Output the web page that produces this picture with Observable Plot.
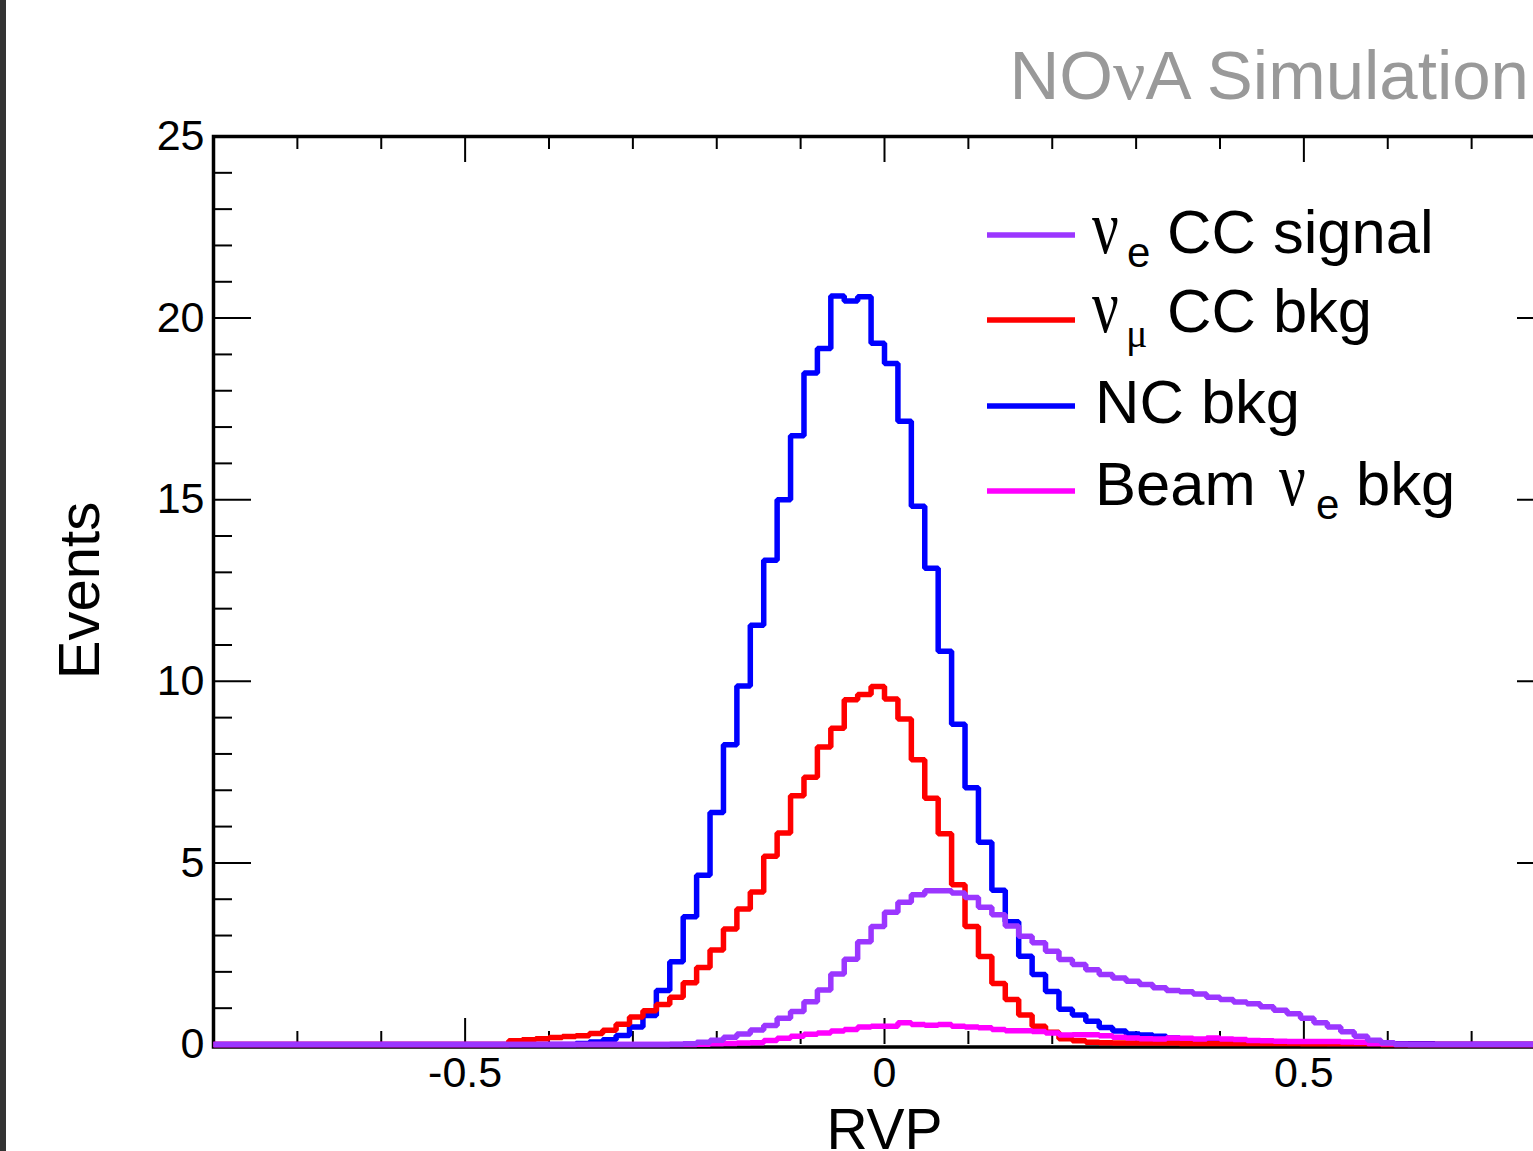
<!DOCTYPE html>
<html>
<head>
<meta charset="utf-8">
<script src="https://cdn.jsdelivr.net/npm/d3@7"></script>
<script src="https://cdn.jsdelivr.net/npm/@observablehq/plot@0.6"></script>
<style>
html, body { margin: 0; padding: 0; background: #fff; overflow: hidden; width: 1533px; height: 1151px; }
#wrap { position: relative; width: 1533px; height: 1151px; overflow: hidden; }
#wrap svg { position: absolute; left: 0; top: 0; max-width: none !important; }
#bar { position: absolute; left: 0; top: 0; width: 6px; height: 1151px; background: #333; z-index: 2; }
</style>
</head>
<body>
<div id="wrap"><div id="bar"></div></div>
<script>
// ---- binning (100 bins of width 0.016 from -0.8 to 0.8) ----
const binStart = -0.8;
const binWidth = 0.016;
const binCount = 100;

// ---- series values (events per bin) ----
const nueCCSignal = [
  0,0,0,0,0,0,0,0,0,0, 0,0,0,0,0,0,0,0,0,0, 0,0,0,0,0,0,0,0,0,0, 0,0,0,0,
  0.01, 0.02, 0.06, 0.12, 0.20, 0.29, 0.40, 0.52, 0.72, 0.91,
  1.18, 1.50, 1.94, 2.35, 2.83, 3.25,
  3.64, 3.92, 4.12, 4.23, 4.23, 4.17, 4.05, 3.78, 3.57, 3.26,
  2.98, 2.80, 2.57, 2.34, 2.20, 2.06, 1.93, 1.83, 1.74, 1.65,
  1.56, 1.49, 1.45, 1.39, 1.30, 1.24, 1.17, 1.12, 1.04, 0.94,
  0.85, 0.72, 0.60, 0.48, 0.35, 0.23, 0.12, 0.05, 0.01,
  0,0,0,0,0,0,0,0,0,0,0
];
const numuCCBkg = [
  0,0,0,0,0,0,0,0,0,0, 0,0,0,0,0,0,0,0,0,0, 0,0,
  0.10, 0.13, 0.16, 0.19, 0.22, 0.24, 0.30, 0.39, 0.56, 0.76,
  0.93, 1.10, 1.30, 1.70, 2.12, 2.60, 3.18, 3.73, 4.20, 5.18,
  5.82, 6.85, 7.36, 8.19, 8.71, 9.49, 9.64, 9.86, 9.51, 8.96,
  7.84, 6.78, 5.80, 4.40, 3.25, 2.42, 1.68, 1.24, 0.81, 0.50,
  0.34, 0.16, 0.10, 0.06, 0.05, 0.04, 0.04, 0.04, 0.04, 0.04,
  0.03, 0.03, 0.03, 0.03, 0.03, 0.03, 0.03, 0.03, 0.03,
  0.02, 0.02, 0.02, 0.02, 0.02, 0.02,
  0,0,0,0,0,0,0,0,0,0,0,0,0
];
const ncBkg = [
  0,0,0,0,0,0,0,0,0,0, 0,0,0,0,0,0,0,0,0,0, 0,0,0,0,0,0,0,
  0.03, 0.07, 0.13, 0.25, 0.48, 0.80, 1.49, 2.28, 3.52, 4.66,
  6.39, 8.25, 9.87, 11.54, 13.33, 15.00, 16.76, 18.49, 19.16, 20.61,
  20.47, 20.59, 19.31, 18.75, 17.16, 14.82, 13.11, 10.83, 8.82, 7.07,
  5.57, 4.25, 3.38, 2.43, 1.93, 1.46, 0.97, 0.81, 0.64, 0.47,
  0.37, 0.29, 0.26, 0.23, 0.18, 0.14, 0.12, 0.10, 0.08, 0.07,
  0.06, 0.05, 0.04, 0.04, 0.04, 0.04, 0.03, 0.03, 0.03, 0.03,
  0.02, 0.02, 0.02, 0.02, 0.01, 0.01, 0.01, 0.01, 0.01, 0.01, 0.01, 0.01, 0.01
];
const beamNueBkg = [
  0,0,0,0,0,0,0,0,0,0, 0,0,0,0,0,0,0,0,0,0, 0,0,0,0,0,0,0,0,0,0, 0,0,0,0,0,0,
  0.01, 0.02, 0.03, 0.04, 0.05, 0.11, 0.17, 0.23, 0.28, 0.32,
  0.37, 0.41, 0.48, 0.50, 0.50, 0.60, 0.55, 0.53, 0.55, 0.50,
  0.48, 0.46, 0.41, 0.38, 0.38, 0.36, 0.32, 0.26, 0.27, 0.27,
  0.24, 0.20, 0.18, 0.16, 0.15, 0.18, 0.17, 0.15, 0.18, 0.15,
  0.14, 0.11, 0.10, 0.09, 0.08, 0.08, 0.08, 0.08, 0.07, 0.06, 0.03, 0.02,
  0,0,0,0,0,0,0,0,0,0,0,0
];

// ---- axis ticks ----
const xMajorTicks = [-0.5, 0, 0.5];
const xMinorTicks = [-0.7, -0.6, -0.4, -0.3, -0.2, -0.1, 0.1, 0.2, 0.3, 0.4, 0.6, 0.7];
const yMajorTicks = [0, 5, 10, 15, 20, 25];
const yMinorTicks = [1, 2, 3, 4, 6, 7, 8, 9, 11, 12, 13, 14, 16, 17, 18, 19, 21, 22, 23, 24];

// ---- legend / text ----
const seriesColors = ["#9b36ff", "#ff0000", "#0000ff", "#ff00ff"];
const titleText = ["NO", "ν", "A Simulation"];
const xLabel = "RVP";
const yLabel = "Events";

// ---- build step tables ----
const edges = d3.range(binCount + 1).map(i => +(binStart + i * binWidth).toFixed(4));
function steps(values) {
  const pts = values.map((v, i) => ({x: edges[i], y: v}));
  pts.push({x: edges[binCount], y: values[binCount - 1]});
  return pts;
}
const seriesValues = [nueCCSignal, numuCCBkg, ncBkg, beamNueBkg];
const drawOrder = [2, 1, 3, 0]; // NC, numu, beam, signal on top

const W = 1555, H = 1151;
const mL = 213, mR = 0, mT = 136, mB = 107;
const pw = W - mL - mR, ph = H - mT - mB;
const FONT = "'Liberation Sans', Arial, Helvetica, sans-serif";
const fmt = d => String(d);

const plot = Plot.plot({
  width: W, height: H,
  marginLeft: mL, marginRight: mR, marginTop: mT, marginBottom: mB,
  style: {fontFamily: FONT, background: "transparent", overflow: "visible", maxWidth: "none"},
  x: {domain: [-0.8, 0.8], label: null},
  y: {domain: [0, 25], label: null},
  marks: [
    Plot.frame({stroke: "black", strokeWidth: 3.5, insetBottom: -2.5}),
    // y ticks (left inward, right inward)
    Plot.ruleY(yMajorTicks, {insetRight: pw - 38, stroke: "black", strokeWidth: 2}),
    Plot.ruleY(yMinorTicks, {insetRight: pw - 19, stroke: "black", strokeWidth: 2}),
    Plot.ruleY(yMajorTicks, {insetLeft: pw - 38, stroke: "black", strokeWidth: 2}),
    Plot.ruleY(yMinorTicks, {insetLeft: pw - 19, stroke: "black", strokeWidth: 2}),
    // x ticks (bottom inward, top inward)
    Plot.ruleX(xMajorTicks, {insetTop: ph - 26, stroke: "black", strokeWidth: 2}),
    Plot.ruleX(xMinorTicks, {insetTop: ph - 13, stroke: "black", strokeWidth: 2}),
    Plot.ruleX(xMajorTicks, {insetBottom: ph - 26, stroke: "black", strokeWidth: 2}),
    Plot.ruleX(xMinorTicks, {insetBottom: ph - 13, stroke: "black", strokeWidth: 2}),
    Plot.axisY({ticks: yMajorTicks, tickSize: 0, tickPadding: 9, tickFormat: fmt, fontSize: 43, label: null}),
    Plot.axisX({ticks: xMajorTicks, tickSize: 0, tickPadding: 12, tickFormat: fmt, fontSize: 43, label: null}),
    Plot.text([yLabel], {frameAnchor: "left", dx: -133, rotate: -90, fontSize: 58, textAnchor: "middle", lineAnchor: "middle"}),
    Plot.text([xLabel], {frameAnchor: "bottom", dy: 104, lineAnchor: "bottom", textAnchor: "middle", fontSize: 57}),
    // histograms
    ...drawOrder.map(k => Plot.line(steps(seriesValues[k]), {
      x: "x", y: "y", curve: "step-after",
      stroke: seriesColors[k], strokeWidth: 5.5, strokeLinejoin: "miter", strokeLinecap: "butt"
    }))
  ]
});
plot.style.maxWidth = "none";
plot.style.width = W + "px";
plot.style.height = H + "px";
document.getElementById("wrap").appendChild(plot);

// ---- title and legend ----
const svg = d3.select(plot);
const g = svg.append("g").attr("font-family", FONT).attr("text-anchor", "start").attr("fill", "black");

const t = g.append("text").attr("x", 1529).attr("y", 99).attr("text-anchor", "end")
  .attr("font-size", 69).attr("fill", "#999999");
t.append("tspan").text(titleText[0]);
t.append("tspan").attr("font-family", "'Liberation Serif', serif").attr("font-size", 72).text(titleText[1]);
t.append("tspan").text(titleText[2]);

const legendRows = [235, 320, 406, 491];
legendRows.forEach((y, k) => {
  g.append("line").attr("x1", 987).attr("x2", 1075).attr("y1", y).attr("y2", y)
    .attr("stroke", seriesColors[k]).attr("stroke-width", 5.5);
});
function nu(x, y) {
  g.append("text").attr("transform", `translate(${x},${y}) scale(0.78,1)`)
    .attr("text-anchor", "start")
    .attr("font-family", "'Liberation Serif', serif").attr("font-size", 76).text("ν");
}
function txt(s, x, y, size, family) {
  g.append("text").attr("x", x).attr("y", y).attr("font-size", size)
    .attr("text-anchor", "start")
    .attr("font-family", family || FONT).text(s);
}
// row 1
nu(1092, 253); txt("e", 1127, 267, 42); txt("CC signal", 1167, 253, 61.5);
// row 2
nu(1092, 332); txt("μ", 1126, 347, 40, "'Liberation Serif', serif"); txt("CC bkg", 1167, 332, 61.5);
// row 3
txt("NC bkg", 1095, 423, 61.5);
// row 4
txt("Beam", 1095, 505, 61.5); nu(1279, 505); txt("e", 1316, 519, 42); txt("bkg", 1356, 505, 61.5);
</script>
</body>
</html>
